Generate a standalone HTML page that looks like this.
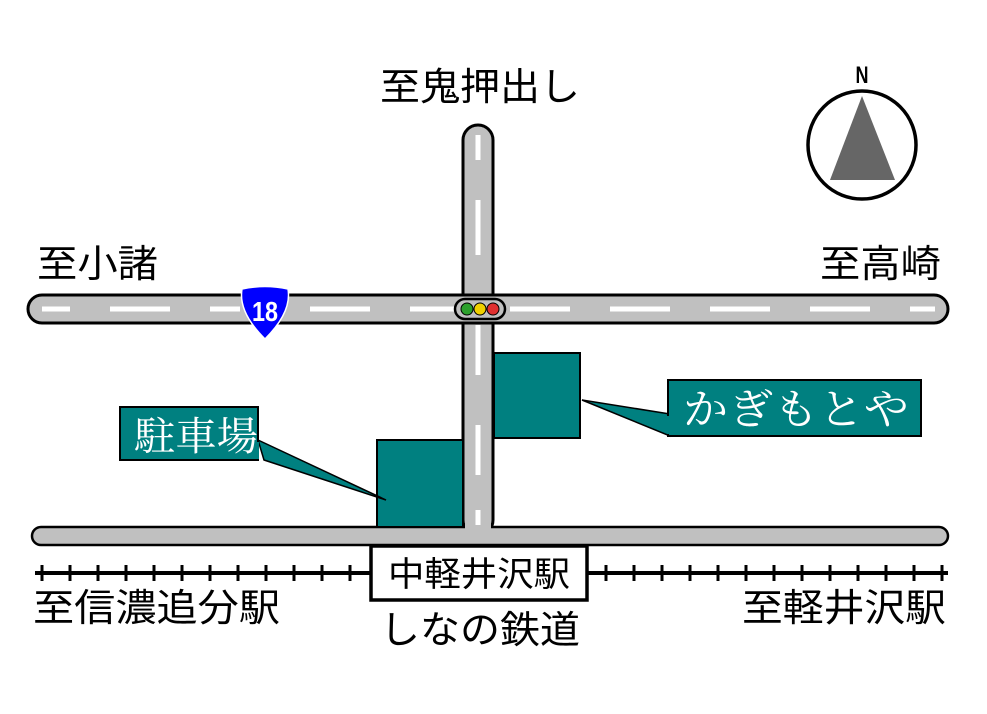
<!DOCTYPE html>
<html><head><meta charset="utf-8"><style>
html,body{margin:0;padding:0;background:#fff}
svg{display:block}
.g{font-family:"Liberation Sans","Noto Sans CJK JP",sans-serif;fill:#000}
.m{font-family:"Liberation Serif","Noto Serif CJK SC",serif;fill:#fff}
</style></head><body>
<svg width="987" height="714" viewBox="0 0 987 714" xmlns="http://www.w3.org/2000/svg">
<rect x="463" y="125" width="30" height="410" rx="15" fill="#c0c0c0" stroke="#000" stroke-width="3"/>
<rect x="28" y="295" width="920" height="28" rx="14" fill="#c0c0c0" stroke="#000" stroke-width="3"/>
<rect x="465" y="297" width="26" height="24" fill="#c0c0c0"/>
<rect x="32" y="527" width="916" height="18" rx="9" fill="#c0c0c0" stroke="#000" stroke-width="2.5"/>
<rect x="465" y="520" width="26" height="9" fill="#c0c0c0"/>
<g stroke="#fff" stroke-width="5">
<line x1="42" y1="309" x2="70" y2="309"/>
<line x1="110" y1="309" x2="170" y2="309"/>
<line x1="210" y1="309" x2="240" y2="309"/>
<line x1="310" y1="309" x2="370" y2="309"/>
<line x1="410" y1="309" x2="455" y2="309"/>
<line x1="510" y1="309" x2="570" y2="309"/>
<line x1="610" y1="309" x2="670" y2="309"/>
<line x1="710" y1="309" x2="770" y2="309"/>
<line x1="810" y1="309" x2="870" y2="309"/>
<line x1="910" y1="309" x2="935" y2="309"/>
<line x1="478" y1="135" x2="478" y2="160"/>
<line x1="478" y1="200" x2="478" y2="255"/>
<line x1="478" y1="325" x2="478" y2="375"/>
<line x1="478" y1="425" x2="478" y2="475"/>
<line x1="478" y1="510" x2="478" y2="525"/>
</g>
<rect x="455" y="299" width="50" height="20" rx="10" fill="#c0c0c0" stroke="#000" stroke-width="2.5"/>
<circle cx="467" cy="309" r="6" fill="#2ca02c" stroke="#000" stroke-width="1"/>
<circle cx="480" cy="309" r="6" fill="#f0d000" stroke="#000" stroke-width="1"/>
<circle cx="493" cy="309" r="6" fill="#e03030" stroke="#000" stroke-width="1"/>
<path d="M242 289 Q265 284 288 289 Q292 312 265 339 Q238 312 242 289 Z" fill="#0000ff" stroke="#fff" stroke-width="1.5"/>
<text x="265" y="321" text-anchor="middle" font-family="Liberation Sans,sans-serif" font-weight="bold" font-size="28" fill="#fff" textLength="26" lengthAdjust="spacingAndGlyphs">18</text>
<rect x="377" y="440" width="86" height="87" fill="#008080" stroke="#000" stroke-width="2"/>
<rect x="494" y="353" width="86" height="85" fill="#008080" stroke="#000" stroke-width="2"/>
<polygon points="258,440 386,500 264,460" fill="#008080" stroke="#000" stroke-width="1.5"/>
<rect x="120" y="407" width="138" height="53" fill="#008080" stroke="#000" stroke-width="2"/>
<rect x="250" y="442" width="9" height="17" fill="#008080"/>
<text x="134" y="450" class="m" font-size="40" textLength="124" lengthAdjust="spacingAndGlyphs">駐車場</text>
<polygon points="582,400 670,414 670,436" fill="#008080" stroke="#000" stroke-width="1.5"/>
<rect x="668" y="380" width="253" height="56" fill="#008080" stroke="#000" stroke-width="2"/>
<rect x="667" y="416" width="9" height="18" fill="#008080"/>
<text x="683" y="424" class="m" font-size="42" textLength="226" lengthAdjust="spacingAndGlyphs">かぎもとや</text>
<line x1="35" y1="573" x2="948" y2="573" stroke="#000" stroke-width="4"/>
<g stroke="#000" stroke-width="3">
<line x1="42" y1="565" x2="42" y2="581"/><line x1="70" y1="565" x2="70" y2="581"/><line x1="98" y1="565" x2="98" y2="581"/><line x1="126" y1="565" x2="126" y2="581"/><line x1="154" y1="565" x2="154" y2="581"/><line x1="182" y1="565" x2="182" y2="581"/><line x1="210" y1="565" x2="210" y2="581"/><line x1="238" y1="565" x2="238" y2="581"/><line x1="266" y1="565" x2="266" y2="581"/><line x1="294" y1="565" x2="294" y2="581"/><line x1="322" y1="565" x2="322" y2="581"/><line x1="350" y1="565" x2="350" y2="581"/>
<line x1="606" y1="565" x2="606" y2="581"/><line x1="634" y1="565" x2="634" y2="581"/><line x1="662" y1="565" x2="662" y2="581"/><line x1="690" y1="565" x2="690" y2="581"/><line x1="718" y1="565" x2="718" y2="581"/><line x1="746" y1="565" x2="746" y2="581"/><line x1="774" y1="565" x2="774" y2="581"/><line x1="802" y1="565" x2="802" y2="581"/><line x1="830" y1="565" x2="830" y2="581"/><line x1="858" y1="565" x2="858" y2="581"/><line x1="886" y1="565" x2="886" y2="581"/><line x1="914" y1="565" x2="914" y2="581"/><line x1="942" y1="565" x2="942" y2="581"/>
</g>
<rect x="371" y="546" width="216" height="54" fill="#fff" stroke="#000" stroke-width="3.5"/>
<text x="388" y="586" class="g" font-size="34" textLength="182" lengthAdjust="spacingAndGlyphs">中軽井沢駅</text>
<text x="380" y="100" class="g" font-size="38" textLength="200" lengthAdjust="spacingAndGlyphs">至鬼押出し</text>
<text x="37" y="277" class="g" font-size="38" textLength="121" lengthAdjust="spacingAndGlyphs">至小諸</text>
<text x="820" y="277" class="g" font-size="38" textLength="121" lengthAdjust="spacingAndGlyphs">至高崎</text>
<text x="33" y="621" class="g" font-size="38" textLength="247" lengthAdjust="spacingAndGlyphs">至信濃追分駅</text>
<text x="380" y="643" class="g" font-size="38" textLength="200" lengthAdjust="spacingAndGlyphs">しなの鉄道</text>
<text x="742" y="621" class="g" font-size="38" textLength="204" lengthAdjust="spacingAndGlyphs">至軽井沢駅</text>
<circle cx="862" cy="145" r="54" fill="#fff" stroke="#000" stroke-width="3.5"/>
<polygon points="862,96 830,180 895,180" fill="#666"/>
<text x="862" y="83" text-anchor="middle" font-family="Liberation Sans,sans-serif" font-weight="bold" font-size="24" fill="#000" textLength="13" lengthAdjust="spacingAndGlyphs">N</text>
</svg>
</body></html>
